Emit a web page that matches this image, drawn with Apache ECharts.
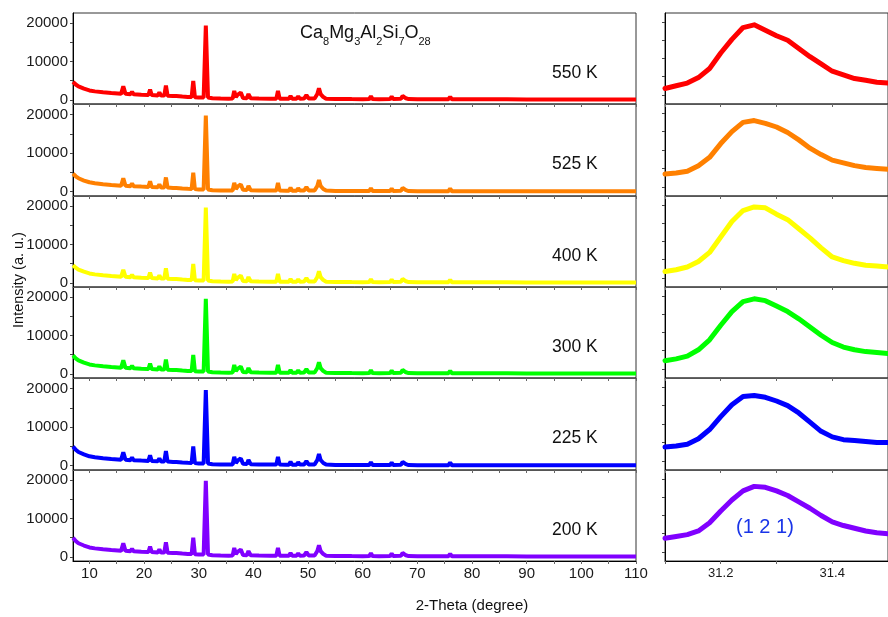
<!DOCTYPE html>
<html><head><meta charset="utf-8">
<script src="https://cdn.jsdelivr.net/npm/echarts@6/dist/echarts.min.js"></script>
<style>html,body{margin:0;padding:0;background:#fff}#c{width:888px;height:617px}</style>
</head><body><div id="c"></div>
<script>
// ---------- DATA ----------
const temperatures = ['550 K', '525 K', '400 K', '300 K', '225 K', '200 K'];
const lineColors = ['#ff0000', '#ff8000', '#ffff00', '#00ff00', '#0000ff', '#8000ff'];

// full patterns: 2-theta positions (degree)
const twoTheta = [
  7.0, 7.5, 8.0, 9.0, 10.0, 11.0, 12.5, 14.0, 15.8, 16.2,
  16.6, 17.5, 17.8, 18.1, 19.5, 20.8, 21.1, 21.4, 22.5, 22.8,
  23.1, 23.7, 24.0, 24.3, 25.3, 25.6, 25.9, 27.0, 28.0, 28.7,
  29.0, 29.3, 30.0, 30.9, 31.3, 31.7, 32.5, 34.0, 35.5, 36.2,
  36.5, 36.8, 37.1, 37.4, 37.7, 38.1, 38.8, 39.1, 39.5, 41.0,
  43.0, 44.2, 44.5, 44.8, 46.0, 46.5, 46.8, 47.1, 47.9, 48.2,
  48.5, 49.3, 49.7, 50.1, 51.2, 51.7, 52.0, 52.3, 52.8, 53.3,
  55.0, 56.2, 56.5, 56.8, 58.0, 60.0, 61.2, 61.5, 61.8, 63.0,
  65.0, 65.3, 65.6, 67.0, 67.3, 67.6, 67.9, 68.4, 70.0, 71.0,
  71.3, 71.6, 72.8, 73.1, 73.4, 75.7, 76.0, 76.3, 77.2, 77.5,
  77.8, 81.2, 81.5, 81.8, 83.0, 85.8, 86.1, 86.4, 90.0, 95.0,
  100.0, 105.0, 110.0
];
const intensity550K = [
  4700, 4000, 3500, 2900, 2450, 2200, 1950, 1750, 1550, 3500,
  1550, 1450, 2100, 1430, 1330, 1250, 2700, 1230, 1150, 1900,
  1130, 1100, 3700, 1080, 1000, 1500, 980, 850, 750, 700,
  4900, 680, 600, 600, 19400, 600, 400, 320, 300, 320,
  2300, 700, 1300, 900, 1900, 500, 420, 1500, 400, 320,
  300, 300, 2300, 300, 270, 280, 1000, 280, 280, 900,
  300, 350, 1200, 350, 350, 1500, 3000, 1500, 700, 300,
  220, 200, 600, 200, 180, 170, 180, 900, 180, 170,
  180, 800, 180, 250, 1000, 800, 400, 180, 150, 150,
  400, 150, 150, 400, 150, 150, 800, 150, 150, 400,
  150, 130, 450, 130, 120, 120, 400, 120, 100, 100,
  100, 100, 100
];
const intensity525K = [
  4700, 4000, 3500, 2900, 2450, 2200, 1950, 1750, 1550, 3500,
  1550, 1450, 2100, 1430, 1330, 1250, 2700, 1230, 1150, 1900,
  1130, 1100, 3700, 1080, 1000, 1500, 980, 850, 750, 700,
  4900, 680, 600, 600, 19700, 600, 400, 320, 300, 320,
  2300, 700, 1300, 900, 1900, 500, 420, 1500, 400, 320,
  300, 300, 2300, 300, 270, 280, 1000, 280, 280, 900,
  300, 350, 1200, 350, 350, 1500, 3000, 1500, 700, 300,
  220, 200, 600, 200, 180, 170, 180, 900, 180, 170,
  180, 800, 180, 250, 1000, 800, 400, 180, 150, 150,
  400, 150, 150, 400, 150, 150, 800, 150, 150, 400,
  150, 130, 450, 130, 120, 120, 400, 120, 100, 100,
  100, 100, 100
];
const intensity400K = [
  4600, 3950, 3450, 2900, 2450, 2200, 1950, 1750, 1550, 3400,
  1550, 1450, 2100, 1430, 1330, 1250, 2700, 1230, 1150, 1900,
  1130, 1100, 3800, 1080, 1000, 1500, 980, 850, 750, 700,
  4900, 680, 600, 600, 19700, 600, 400, 320, 300, 320,
  2300, 700, 1300, 900, 1900, 500, 420, 1500, 400, 320,
  300, 300, 2300, 300, 270, 280, 1000, 280, 280, 900,
  300, 350, 1200, 350, 350, 1500, 3000, 1500, 700, 300,
  220, 200, 600, 200, 180, 170, 180, 900, 180, 170,
  180, 800, 180, 250, 1000, 800, 400, 180, 150, 150,
  400, 150, 150, 400, 150, 150, 800, 150, 150, 400,
  150, 130, 450, 130, 120, 120, 400, 120, 100, 100,
  100, 100, 100
];
const intensity300K = [
  4800, 4050, 3500, 2900, 2450, 2200, 1950, 1750, 1550, 3500,
  1550, 1450, 2100, 1430, 1330, 1250, 2700, 1230, 1150, 1900,
  1130, 1100, 3700, 1080, 1000, 1500, 980, 850, 750, 700,
  4900, 680, 600, 600, 19600, 600, 400, 320, 300, 320,
  2300, 700, 1300, 900, 1900, 500, 420, 1500, 400, 320,
  300, 300, 2300, 300, 270, 280, 1000, 280, 280, 900,
  300, 350, 1200, 350, 350, 1500, 3000, 1500, 700, 300,
  220, 200, 600, 200, 180, 170, 180, 900, 180, 170,
  180, 800, 180, 250, 1000, 800, 400, 180, 150, 150,
  400, 150, 150, 400, 150, 150, 800, 150, 150, 400,
  150, 130, 450, 130, 120, 120, 400, 120, 100, 100,
  100, 100, 100
];
const intensity225K = [
  5000, 4150, 3550, 2950, 2450, 2200, 1950, 1750, 1550, 3500,
  1550, 1450, 2100, 1430, 1330, 1250, 2700, 1230, 1150, 1900,
  1130, 1100, 3800, 1080, 1000, 1500, 980, 850, 750, 700,
  5000, 680, 600, 600, 19600, 600, 400, 320, 300, 320,
  2300, 700, 1300, 900, 1900, 500, 420, 1500, 400, 320,
  300, 300, 2300, 300, 270, 280, 1000, 280, 280, 900,
  300, 350, 1200, 350, 350, 1500, 3000, 1500, 700, 300,
  220, 200, 600, 200, 180, 170, 180, 900, 180, 170,
  180, 800, 180, 250, 1000, 800, 400, 180, 150, 150,
  400, 150, 150, 400, 150, 150, 800, 150, 150, 400,
  150, 130, 450, 130, 120, 120, 400, 120, 100, 100,
  100, 100, 100
];
const intensity200K = [
  5000, 4150, 3550, 2950, 2450, 2200, 1950, 1750, 1550, 3500,
  1550, 1450, 2100, 1430, 1330, 1250, 2700, 1230, 1150, 1900,
  1130, 1100, 3800, 1080, 1000, 1500, 980, 850, 750, 700,
  5000, 680, 600, 600, 19900, 600, 400, 320, 300, 320,
  2300, 700, 1300, 900, 1900, 500, 420, 1500, 400, 320,
  300, 300, 2300, 300, 270, 280, 1000, 280, 280, 900,
  300, 350, 1200, 350, 350, 1500, 3000, 1500, 700, 300,
  220, 200, 600, 200, 180, 170, 180, 900, 180, 170,
  180, 800, 180, 250, 1000, 800, 400, 180, 150, 150,
  400, 150, 150, 400, 150, 150, 800, 150, 150, 400,
  150, 130, 450, 130, 120, 120, 400, 120, 100, 100,
  100, 100, 100
];

// zoom on the (1 2 1) reflection (relative intensity, panel units)
const zoomTheta = [31.10, 31.12, 31.14, 31.16, 31.18, 31.20, 31.22, 31.24, 31.26, 31.28,
                   31.30, 31.32, 31.34, 31.36, 31.38, 31.40, 31.42, 31.44, 31.46, 31.48, 31.50];
const zoom550K = [17, 20, 23, 29, 39, 56, 71, 84, 87, 81, 75, 70, 61, 52, 44, 36, 32, 28, 26, 24, 23];
const zoom525K = [24, 25, 27, 33, 42, 57, 70, 80, 82, 79, 75, 69, 61, 52, 45, 39, 36, 33, 31, 30, 29];
const zoom400K = [17, 19, 22, 28, 38, 55, 72, 84, 88, 87, 80, 74, 64, 54, 43, 33, 29, 26, 24, 23, 22];
const zoom300K = [19, 21, 24, 31, 42, 58, 73, 84, 87, 85, 79, 73, 65, 56, 47, 39, 34, 31, 29, 28, 27];
const zoom225K = [25, 26, 28, 34, 44, 58, 71, 80, 81, 79, 75, 70, 62, 52, 42, 36, 33, 32, 31, 30, 30];
const zoom200K = [25, 27, 29, 33, 42, 55, 67, 77, 82, 81, 77, 72, 65, 58, 50, 43, 39, 36, 33, 31, 30];

// ticks / labels
const leftXTickValues = [10, 15, 20, 25, 30, 35, 40, 45, 50, 55, 60, 65, 70, 75, 80, 85, 90, 95, 100, 105, 110];
const leftXLabelValues = [10, 20, 30, 40, 50, 60, 70, 80, 90, 100, 110];
const leftYTickValues = [0, 5000, 10000, 15000, 20000];
const leftYLabelValues = [0, 10000, 20000];
const rightXTickValues = [31.1, 31.2, 31.3, 31.4, 31.5];
const rightXLabelValues = [31.2, 31.4];
const rightYTickValues = [10, 30, 50, 70, 90];

// ---------- CHART ----------
const patterns = [intensity550K, intensity525K, intensity400K, intensity300K, intensity225K, intensity200K];
const zooms = [zoom550K, zoom525K, zoom400K, zoom300K, zoom225K, zoom200K];
const FONT = '"Liberation Sans", Arial, sans-serif';
const N = temperatures.length;
const TOP = 13, BOTTOM = 561;
const panelTops = [];
for (let i = 0; i <= N; i++) panelTops.push(Math.round(TOP + (BOTTOM - TOP) * i / N));

const grids = [], xAxes = [], yAxes = [], series = [];
for (let i = 0; i < N; i++) {
  const top = panelTops[i], h = panelTops[i + 1] - panelTops[i];
  const isBottom = i === N - 1;
  grids.push({ left: 73, width: 563, top: top, height: h, show: true, borderColor: '#333', borderWidth: 1, backgroundColor: 'transparent' });
  xAxes.push({
    gridIndex: i, type: 'value', min: 7, max: 110,
    axisLine: { show: true, onZero: false, lineStyle: { color: isBottom ? '#000' : '#555', width: 1 } },
    axisTick: { show: true, customValues: leftXTickValues, length: 3, inside: false, lineStyle: { color: '#666' } },
    axisLabel: { show: isBottom, customValues: leftXLabelValues, fontSize: 15, color: '#1a1a1a', fontFamily: FONT, margin: 5,
                 formatter: v => String(v) },
    splitLine: { show: false }
  });
  yAxes.push({
    gridIndex: i, type: 'value', min: -1100, max: 22700,
    axisLine: { show: true, lineStyle: { color: '#000', width: 1 } },
    axisTick: { show: true, customValues: leftYTickValues, length: 3, inside: false, lineStyle: { color: '#444' } },
    axisLabel: { customValues: leftYLabelValues, fontSize: 15, color: '#1a1a1a', fontFamily: FONT, margin: 5,
                 formatter: v => String(v) },
    splitLine: { show: false }
  });
  series.push({
    type: 'line', xAxisIndex: i, yAxisIndex: i, showSymbol: false, silent: true, clip: true,
    lineStyle: { color: lineColors[i], width: 4 },
    data: twoTheta.map((t, k) => [t, patterns[i][k]])
  });
}
for (let i = 0; i < N; i++) {
  const top = panelTops[i], h = panelTops[i + 1] - panelTops[i];
  const isBottom = i === N - 1;
  const gi = N + i;
  grids.push({ left: 665, width: 234, top: top, height: h, show: true, borderColor: '#333', borderWidth: 1, backgroundColor: 'transparent' });
  xAxes.push({
    gridIndex: gi, type: 'value', min: 31.1, max: 31.5,
    axisLine: { show: true, onZero: false, lineStyle: { color: isBottom ? '#000' : '#555', width: 1 } },
    axisTick: { show: true, customValues: rightXTickValues, length: 3, inside: false, lineStyle: { color: '#666' } },
    axisLabel: { show: isBottom, customValues: rightXLabelValues, fontSize: 13, color: '#1a1a1a', fontFamily: FONT, margin: 6,
                 formatter: v => Number(v).toFixed(1) },
    splitLine: { show: false }
  });
  yAxes.push({
    gridIndex: gi, type: 'value', min: 0, max: 100,
    axisLine: { show: true, lineStyle: { color: '#000', width: 1 } },
    axisTick: { show: true, customValues: rightYTickValues, length: 3, inside: false, lineStyle: { color: '#444' } },
    axisLabel: { show: false },
    splitLine: { show: false }
  });
  series.push({
    type: 'line', xAxisIndex: gi, yAxisIndex: gi, showSymbol: false, silent: true, clip: true,
    lineStyle: { color: lineColors[i], width: 5, join: 'round', cap: 'round' },
    data: zoomTheta.map((t, k) => [t, zooms[i][k]])
  });
}

const graphics = [];
for (let i = 0; i < N; i++) {
  graphics.push({
    type: 'text', left: 552, top: panelTops[i] + 51, silent: true,
    style: { text: temperatures[i], fontSize: 17.5, fill: '#111', fontFamily: FONT }
  });
}
graphics.push({
  type: 'text', left: 300, top: 19, silent: true,
  style: {
    text: 'Ca{s|8}Mg{s|3}Al{s|2}Si{s|7}O{s|28}', fontSize: 18, fill: '#111', fontFamily: FONT,
    lineHeight: 28, verticalAlign: 'middle',
    rich: { s: { fontSize: 11, fill: '#111', fontFamily: FONT, lineHeight: 28, verticalAlign: 'bottom' } }
  }
});
graphics.push({
  type: 'text', left: 736, top: 517, silent: true,
  style: { text: '(1 2 1)', fontSize: 20, fill: '#1a35e8', fontFamily: FONT }
});
graphics.push({
  type: 'text', x: 19, y: 280, rotation: Math.PI / 2, silent: true,
  style: { text: 'Intensity (a. u.)', fontSize: 14.5, fill: '#111', fontFamily: FONT, align: 'center', verticalAlign: 'middle' }
});
graphics.push({
  type: 'text', x: 472, y: 606, silent: true,
  style: { text: '2-Theta (degree)', fontSize: 15, fill: '#111', fontFamily: FONT, align: 'center', verticalAlign: 'middle' }
});

const chart = echarts.init(document.getElementById('c'), null, { renderer: 'canvas' });
chart.setOption({
  animation: false,
  backgroundColor: '#fff',
  textStyle: { fontFamily: FONT },
  grid: grids, xAxis: xAxes, yAxis: yAxes, series: series,
  graphic: graphics
});
</script>
</body></html>
